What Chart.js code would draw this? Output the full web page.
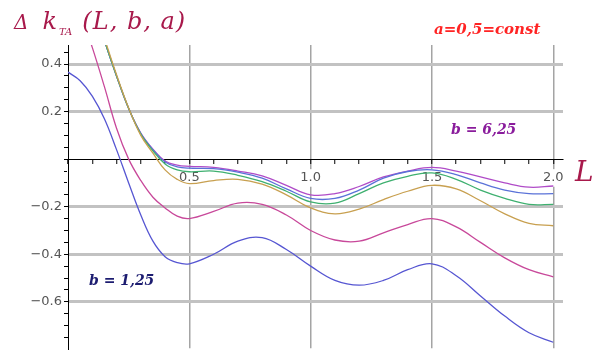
<!DOCTYPE html>
<html>
<head>
<meta charset="utf-8">
<script src="https://cdn.jsdelivr.net/npm/chart.js@4.4.0/dist/chart.umd.min.js"></script>
<style>
  html, body { margin: 0; padding: 0; background: #fff; }
  #wrap { position: relative; width: 598px; height: 358px; }
  .note { position: absolute; font-family: "DejaVu Serif", serif; font-style: italic; white-space: nowrap; line-height: 1; }
</style>
</head>
<body>
<div id="wrap">
  <canvas id="chart" width="598" height="358"></canvas>
  <div class="note" style="left:14px;top:9px;font-size:24px;color:#a8194b;">
    <span style="font-size:20px">Δ</span><span style="margin-left:14px">k</span><sub style="font-size:10px;margin-left:2px">TA</sub><span style="margin-left:10px;letter-spacing:1px">(L, b, a)</span>
  </div>
  <div class="note" style="left:434px;top:22px;font-size:15px;font-weight:bold;color:#ff2424;">a=0,5=const</div>
  <div class="note" style="left:451px;top:122px;font-size:14px;font-weight:bold;color:#8a1c9c;">b = 6,25</div>
  <div class="note" style="left:89px;top:273px;font-size:14px;font-weight:bold;color:#1c1c70;">b = 1,25</div>
  <div class="note" style="left:575px;top:158px;font-size:28px;color:#a8194b;">L</div>
</div>
<script>
// L values (x axis), denser where the curves drop fast
const L = [0, 0.05, 0.1, 0.15, 0.2, 0.25, 0.3, 0.35, 0.4, 0.45, 0.5,
           0.6, 0.7, 0.8, 0.9, 1.0, 1.1, 1.2, 1.3, 1.4, 1.5, 1.6, 1.7, 1.8, 1.9, 2.0];

// curves, lowest (b = 1,25) to highest (b = 6,25)
const curveB1 = [0.366, 0.33, 0.265, 0.17, 0.04, -0.10, -0.235, -0.345, -0.41, -0.435, -0.44,
                 -0.40, -0.345, -0.33, -0.38, -0.45, -0.51, -0.53, -0.51, -0.465, -0.44, -0.49, -0.575, -0.66, -0.73, -0.77];
const curveB2 = [0.74, 0.62, 0.47, 0.305, 0.13, 0.0, -0.09, -0.16, -0.205, -0.24, -0.25,
                 -0.22, -0.185, -0.19, -0.235, -0.30, -0.34, -0.345, -0.31, -0.275, -0.25, -0.285, -0.35, -0.415, -0.465, -0.495];
const curveB3 = [1.0, 0.85, 0.68, 0.51, 0.355, 0.215, 0.10, 0.025, -0.045, -0.085, -0.103,
                 -0.09, -0.085, -0.105, -0.15, -0.205, -0.23, -0.21, -0.17, -0.135, -0.11, -0.125, -0.175, -0.23, -0.27, -0.28];
const curveB4 = [1.0, 0.84, 0.67, 0.50, 0.35, 0.213, 0.105, 0.035, -0.02, -0.045, -0.053,
                 -0.05, -0.068, -0.095, -0.135, -0.18, -0.185, -0.145, -0.10, -0.072, -0.058, -0.085, -0.13, -0.165, -0.19, -0.19];
const curveB5 = [1.0, 0.84, 0.67, 0.50, 0.35, 0.213, 0.108, 0.04, -0.012, -0.032, -0.038,
                 -0.04, -0.055, -0.08, -0.125, -0.165, -0.165, -0.13, -0.08, -0.052, -0.045, -0.065, -0.10, -0.13, -0.145, -0.145];
const curveB6 = [1.0, 0.84, 0.67, 0.50, 0.35, 0.213, 0.11, 0.042, -0.008, -0.025, -0.03,
                 -0.035, -0.05, -0.07, -0.11, -0.15, -0.145, -0.115, -0.075, -0.05, -0.035, -0.05, -0.075, -0.10, -0.118, -0.113];

const series = [curveB1, curveB2, curveB3, curveB4, curveB5, curveB6];
const colors = ["#5656d2", "#c8489a", "#c8a050", "#3fb070", "#5a72d8", "#b04cc8"];

const isMult = (v, s) => Math.abs(v / s - Math.round(v / s)) < 1e-6;

new Chart(document.getElementById("chart"), {
  type: "line",
  data: {
    datasets: series.map((s, i) => ({
      data: s.map((v, j) => ({ x: L[j], y: v })),
      borderColor: colors[i],
      borderWidth: 1.3,
      pointRadius: 0,
      tension: 0.4,
      fill: false,
    })),
  },
  options: {
    responsive: false,
    animation: false,
    layout: { padding: { top: 45, right: 35, bottom: 3, left: 0 } },
    plugins: { legend: { display: false }, tooltip: { enabled: false } },
    scales: {
      x: {
        type: "linear",
        position: { y: 0 },
        min: 0,
        max: 2.04,
        z: 1,
        border: { color: "#000", width: 1 },
        grid: {
          color: (c) => (c.tick && c.tick.value > 0 && isMult(c.tick.value, 0.5) ? "#a4a4a4" : "transparent"),
          lineWidth: 1.5,
          tickLength: 4,
          tickWidth: 1,
          tickColor: (c) => (c.tick && c.tick.value <= 2.0001 ? "#000" : "transparent"),
        },
        ticks: {
          stepSize: 0.1,
          includeBounds: false,
          autoSkip: false,
          maxRotation: 0,
          padding: 7,
          color: "#555",
          font: { family: "DejaVu Sans", size: 13 },
          showLabelBackdrop: true,
          backdropColor: "#fff",
          backdropPadding: 1,
          callback: (v) => (v > 0 && isMult(v, 0.5) ? v.toFixed(1) : ""),
        },
      },
      y: {
        type: "linear",
        position: "left",
        min: -0.795,
        max: 0.48,
        border: { color: "#000", width: 1 },
        afterFit: (s) => { s.width = 68; },
        grid: {
          color: (c) => (c.tick && c.tick.value !== 0 && isMult(c.tick.value, 0.2) ? "#c2c2c2" : "transparent"),
          lineWidth: 3,
          tickLength: 4,
          tickWidth: 1,
          tickColor: "#000",
        },
        ticks: {
          stepSize: 0.05,
          includeBounds: false,
          autoSkip: false,
          padding: 2,
          color: "#555",
          font: { family: "DejaVu Sans", size: 13 },
          callback: (v) => (v !== 0 && isMult(v, 0.2) ? v.toFixed(1).replace("-", "\u2212") : ""),
        },
      },
    },
  },
});
</script>
</body>
</html>
